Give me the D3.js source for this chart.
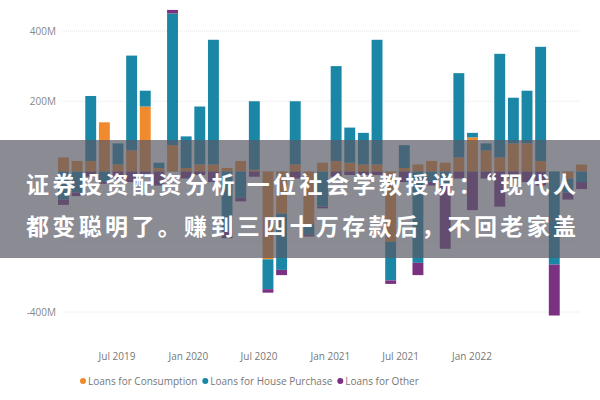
<!DOCTYPE html>
<html><head><meta charset="utf-8">
<script src="https://cdn.jsdelivr.net/npm/d3@7"></script>
<style>body{margin:0;background:#fff}svg{display:block}</style>
</head><body><svg id="c" width="600" height="400"></svg>
<script>
const consumption=[40,30,30,140,20,60,185,10,75,10,20,20,10,30,5,-250,-120,20,-150,25,30,25,20,20,-200,10,20,30,25,40,97,60,40,80,80,30,0,-20,20];
const house=[-80,-60,185,-30,60,270,45,15,375,90,165,355,-170,-75,195,-85,-160,180,-30,-100,270,100,90,355,-110,65,-260,-30,-40,240,13,20,295,130,150,325,-265,-40,-30];
const other=[-15,-10,-15,-5,-20,-30,-15,-40,10,-20,-10,-30,-20,-10,-15,-10,-15,-20,-5,-5,-15,-10,-10,-10,-10,-30,-35,-10,-180,-20,-110,-20,-100,-20,-30,-40,-145,-20,-20];
const yTicks=[400,200,0,-200,-400];
const yLabelTicks=[400,200,-400];
const yTickLabels=["400M","200M","-400M"];
const xTickDates=["2019-07-01","2020-01-01","2020-07-01","2021-01-01","2021-07-01","2022-01-01"];
const xTickLabels=["Jul 2019","Jan 2020","Jul 2020","Jan 2021","Jul 2021","Jan 2022"];
const seriesNames=["Loans for Consumption","Loans for House Purchase","Loans for Other"];
const colors=["#f08a2c","#1a87a6","#7b3182"];
const banner=["证券投资配资分析 一位社会学教授说：“现代人","都变聪明了。赚到三四十万存款后，不回老家盖"];

const svg=d3.select("#c");
const y=d3.scaleLinear().domain([-400,400]).range([312,31]);
const x=d3.scaleBand().domain(d3.range(consumption.length)).range([58,587]).paddingInner(0.2);
const xt=d3.scaleTime().domain([new Date("2019-07-01"),new Date("2022-01-01")]).range([117,472]);

svg.append("g").selectAll("line").data(yTicks).join("line")
 .attr("x1",62).attr("x2",580).attr("y1",d=>y(d)).attr("y2",d=>y(d))
 .attr("stroke","#e6e6e6").attr("stroke-dasharray",d=>d===0?null:"1,1");
svg.append("g").selectAll("text").data(yLabelTicks).join("text")
 .attr("x",56).attr("y",d=>y(d)+4).attr("text-anchor","end")
 .attr("font-family","Open Sans, sans-serif").attr("font-size",10).attr("fill","#888")
 .text((d,i)=>yTickLabels[i]);

const series=[consumption,house,other];
const segs=[];
consumption.forEach((_,i)=>{let p=0,n=0;series.forEach((s,k)=>{const v=s[i];
 if(v>=0){segs.push({i,k,y0:p,y1:p+v});p+=v;}else{segs.push({i,k,y0:n+v,y1:n});n+=v;}});});
svg.append("g").selectAll("rect").data(segs).join("rect")
 .attr("x",d=>x(d.i)).attr("width",x.bandwidth())
 .attr("y",d=>y(d.y1)).attr("height",d=>y(d.y0)-y(d.y1))
 .attr("fill",d=>colors[d.k]);

svg.append("g").selectAll("text").data(xTickDates).join("text")
 .attr("x",d=>xt(new Date(d))).attr("y",360).attr("text-anchor","middle")
 .attr("font-family","Open Sans, sans-serif").attr("font-size",10).attr("fill","#777")
 .text((d,i)=>xTickLabels[i]);

const lg=svg.append("g").attr("font-family","Open Sans, sans-serif").attr("font-size",10).attr("fill","#777");
let lx=80;
seriesNames.forEach((n,k)=>{
 lg.append("circle").attr("cx",lx+3).attr("cy",381).attr("r",3).attr("fill",colors[k]);
 const t=lg.append("text").attr("x",lx+8).attr("y",385).text(n);
 lx+=t.node().getComputedTextLength()+13;
});

svg.append("rect").attr("x",0).attr("y",140).attr("width",600).attr("height",118)
 .attr("fill","#5a5a66").attr("opacity",0.7);
svg.append("g").selectAll("text").data(banner).join("text")
 .attr("x",26).attr("y",(d,i)=>193+i*42).attr("textLength",550).attr("lengthAdjust","spacing")
 .attr("font-family","Noto Sans CJK SC").attr("font-weight","bold").attr("font-size",23)
 .attr("fill","#fff").text(d=>d);
</script></body></html>
